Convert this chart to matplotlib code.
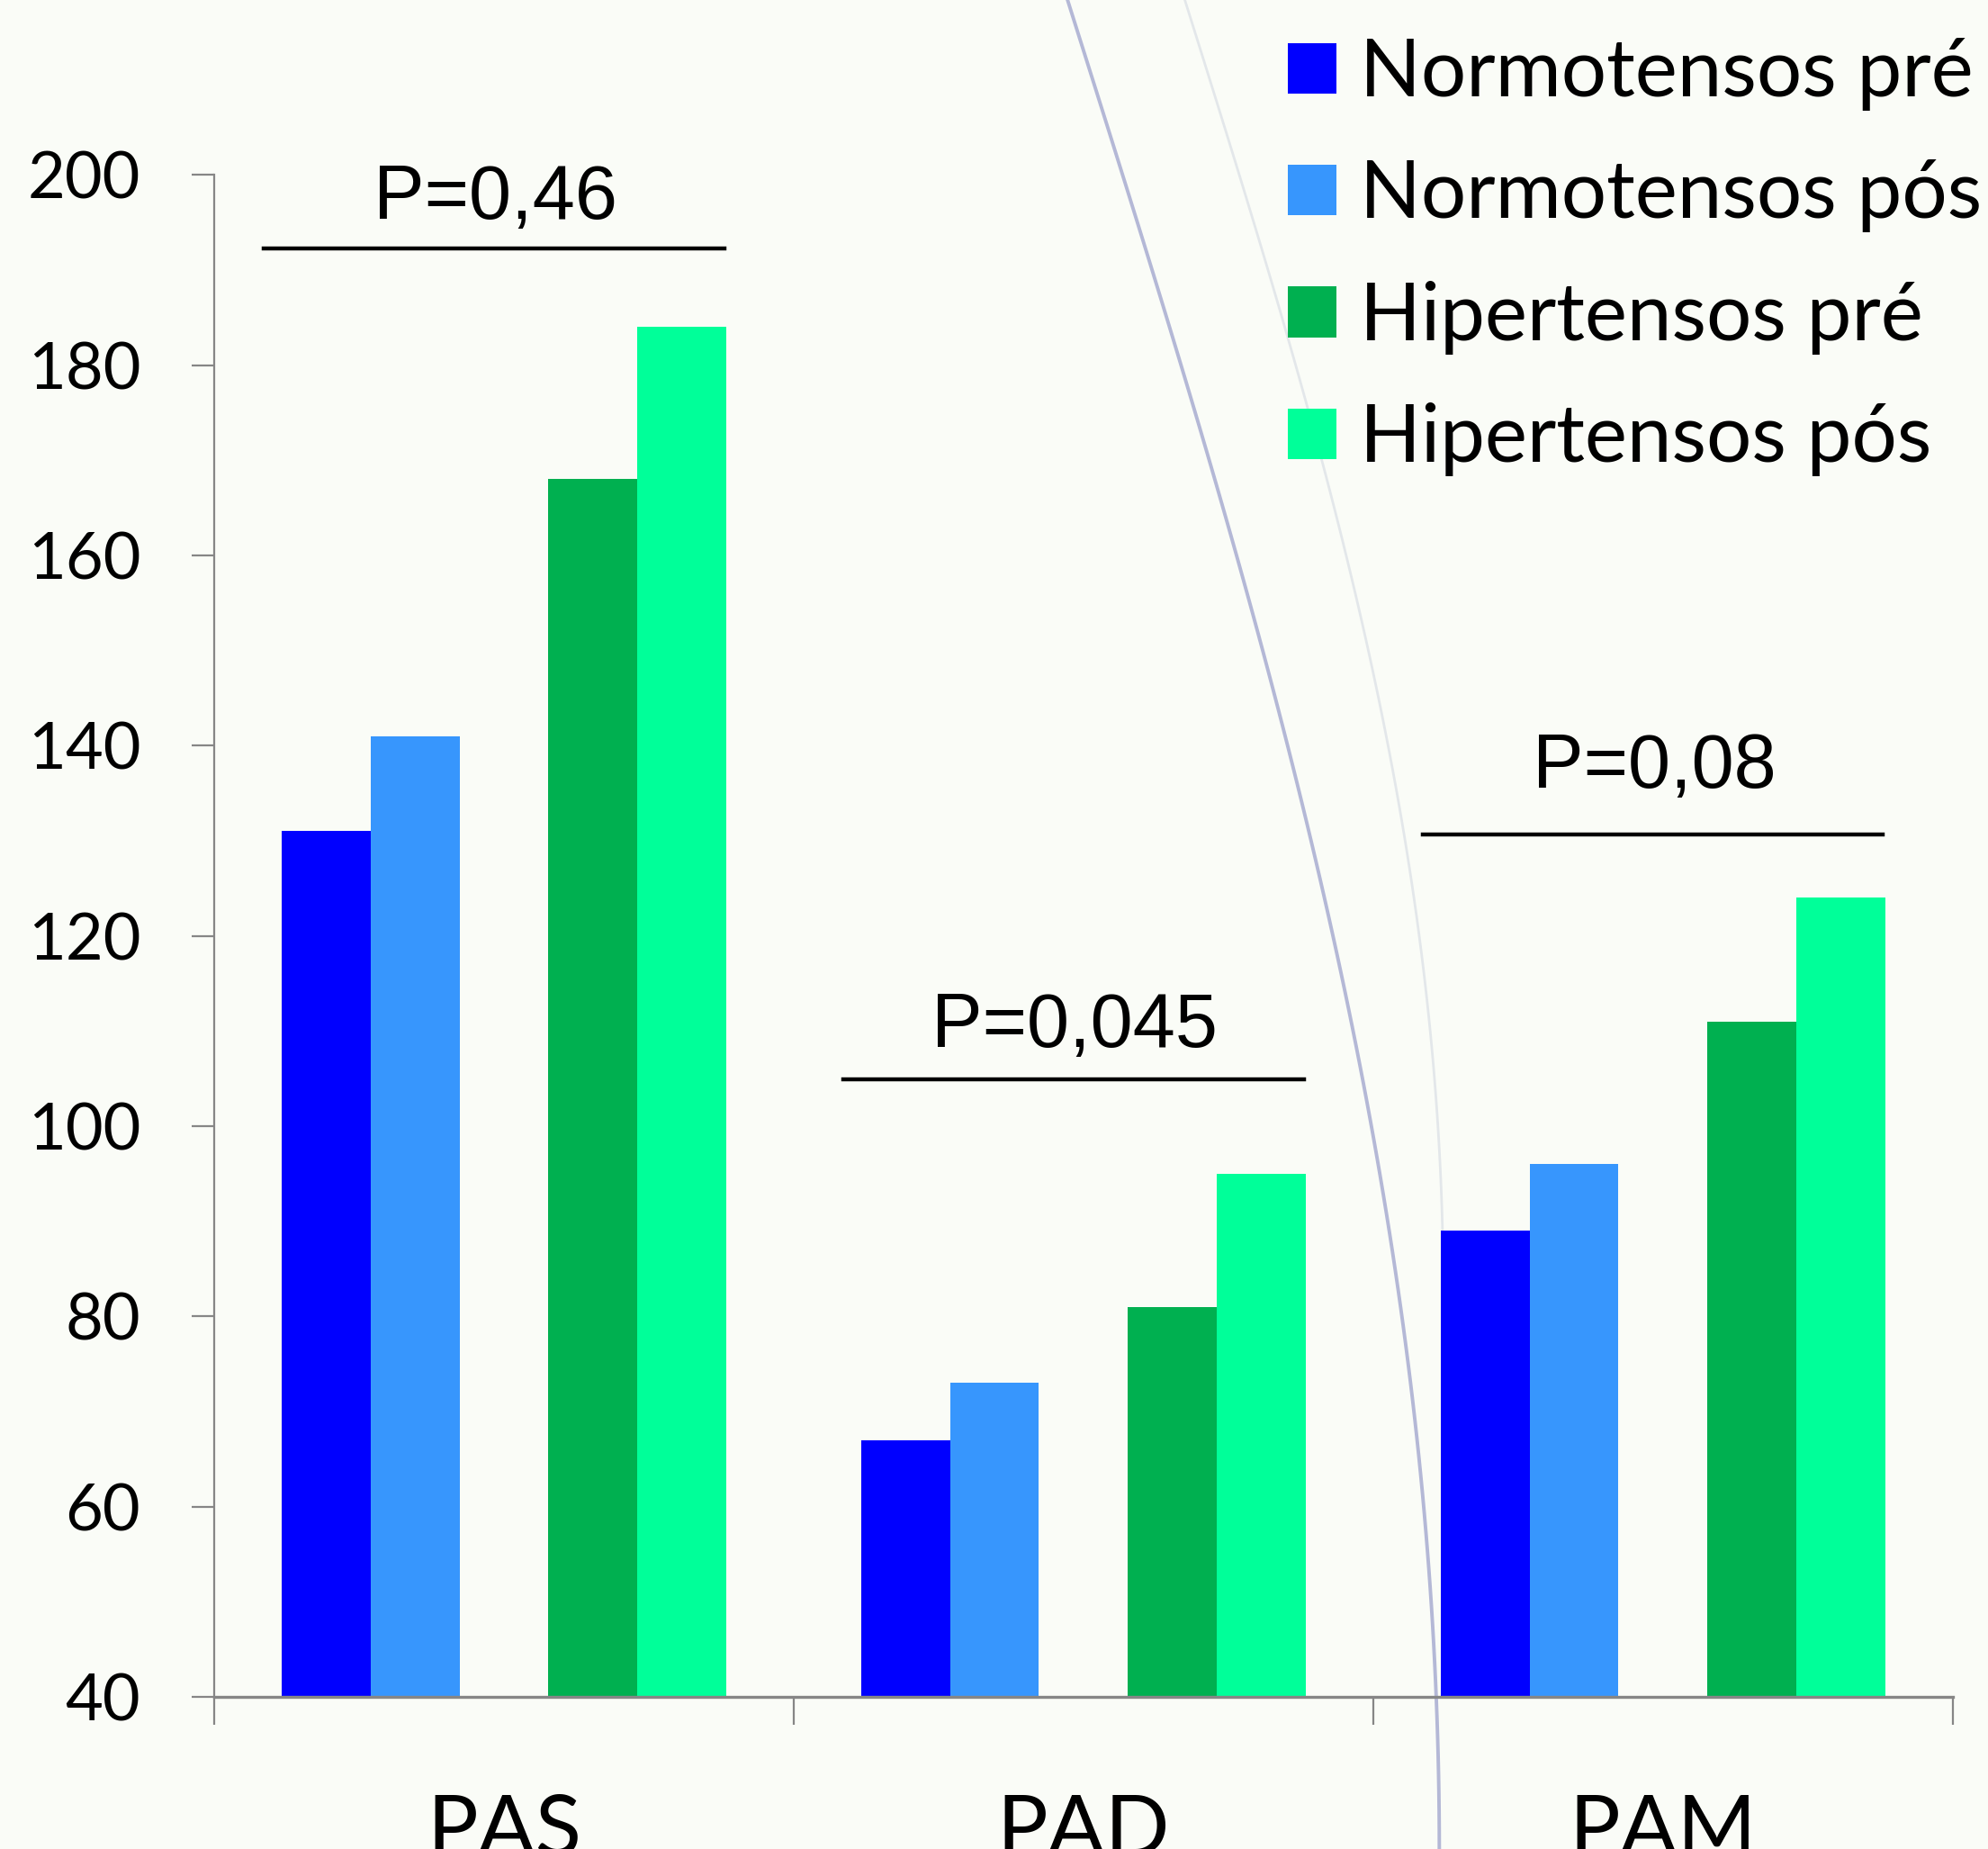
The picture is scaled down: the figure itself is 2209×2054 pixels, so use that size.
import matplotlib
matplotlib.use("Agg")
import matplotlib.pyplot as plt
import numpy as np
from matplotlib.patches import Patch

CATEGORIES = ["PAS", "PAD", "PAM"]
SERIES = ["Normotensos pré", "Normotensos pós", "Hipertensos pré", "Hipertensos pós"]
NORMO_PRE = [131, 67, 89]
NORMO_POS = [141, 73, 96]
HIPER_PRE = [168, 81, 111]
HIPER_POS = [184, 95, 124]
COLORS = ["#0000FF", "#3796FD", "#00B050", "#00FF99"]

P_LABELS = ["P=0,46", "P=0,045", "P=0,08"]
P_LINE_Y = [192.3, 104.9, 130.7]
P_TEXT_Y = [197.5, 110.4, 137.7]

YTICKS = [40, 60, 80, 100, 120, 140, 160, 180, 200]

SANS = "Liberation Sans"
LEG = "Lato"


def main():
    fig = plt.figure(figsize=(11.045, 10.27), dpi=200, facecolor="#fafcf7")

    # faint slide decoration curves in the background
    bg = fig.add_axes([0, 0, 1, 1], zorder=0)
    bg.set_xlim(0, 1)
    bg.set_ylim(0, 1)
    bg.axis("off")
    t = np.linspace(0, 1, 100)
    bg.plot(0.537 + 0.187 * np.sin(t * np.pi / 2), 1 - t,
            color="#b4b8d6", lw=1.4)
    t2 = np.linspace(0, 0.7, 80)
    bg.plot(0.596 + 0.13 * np.sin(t2 / 0.7 * np.pi / 2), 1 - t2,
            color="#e3e7ea", lw=1.0)

    ax = fig.add_axes([0.1078, 0.0823, 0.8744, 0.8231], zorder=1)
    ax.set_facecolor("none")

    x = np.arange(len(CATEGORIES))
    w = 0.1535
    offsets = [-2 * w, -w, w, 2 * w]
    for vals, off, col, name in zip([NORMO_PRE, NORMO_POS, HIPER_PRE, HIPER_POS],
                                    offsets, COLORS, SERIES):
        ax.bar(x + off, np.array(vals) - 40, width=w, bottom=40, color=col,
               label=name, zorder=2)

    for i, (lab, ly, ty) in enumerate(zip(P_LABELS, P_LINE_Y, P_TEXT_Y)):
        ax.plot([i - 0.415, i + 0.38], [ly, ly], color="black", lw=1.6,
                clip_on=False, zorder=3)
        ax.text(i - 0.015, ty, lab, ha="center", va="center", fontsize=30.5,
                family=SANS, clip_on=False, zorder=3)

    ax.set_xlim(-0.5, 2.5)
    ax.set_ylim(40, 200)
    ax.set_yticks(YTICKS)
    ax.set_yticklabels([str(v) for v in YTICKS], family=LEG, fontsize=26)
    ax.set_xticks(x)
    ax.set_xticklabels(CATEGORIES, family=LEG, fontsize=34)
    ax.set_xticks([-0.5, 0.5, 1.5, 2.5], minor=True)
    ax.tick_params(axis="x", which="major", length=0, pad=39)
    ax.tick_params(axis="x", which="minor", length=11, width=0.8, color="#868686")
    ax.tick_params(axis="y", length=9, width=0.8, color="#868686", pad=20.5)
    for s in ["top", "right"]:
        ax.spines[s].set_visible(False)
    ax.spines["left"].set_color("#868686")
    ax.spines["bottom"].set_color("#868686")
    ax.spines["left"].set_linewidth(0.8)
    ax.spines["bottom"].set_linewidth(1.2)

    handles = [Patch(facecolor=c, edgecolor="none") for c in COLORS]
    fig.legend(handles, SERIES, loc="upper left", bbox_to_anchor=(0.648, 0.980),
               frameon=False, prop={"family": LEG, "size": 32},
               handlelength=0.6, handleheight=0.6, handletextpad=0.3,
               labelspacing=0.6, borderpad=0, borderaxespad=0)

    fig.savefig("out.png", dpi=200, facecolor=fig.get_facecolor())


if __name__ == "__main__":
    main()
